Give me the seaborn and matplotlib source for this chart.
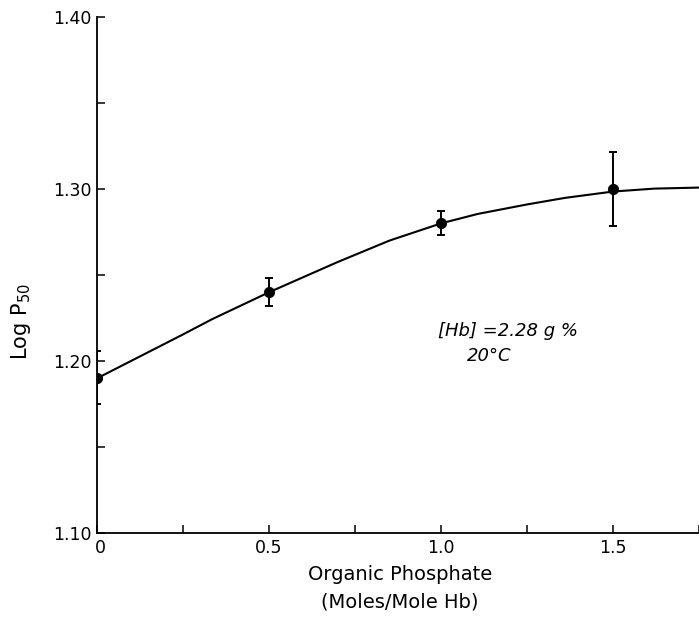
import matplotlib
matplotlib.use("Agg")
import matplotlib.pyplot as plt
import matplotlib.transforms as mtransforms
import seaborn as sns
import pandas as pd

# Measured points
phosphate = [0.0, 0.5, 1.0, 1.5]
log_p50 = [1.19, 1.24, 1.28, 1.30]
err_low = [0.015, 0.008, 0.007, 0.0215]
err_high = [0.016, 0.008, 0.007, 0.0215]

# Smooth fitted curve
curve_x = [0.0, 0.25, 0.335, 0.5, 0.70, 0.85, 1.0, 1.107, 1.25, 1.36, 1.5, 1.62, 1.75]
curve_y = [1.19, 1.2155, 1.2244, 1.24, 1.2576, 1.270, 1.28, 1.2855, 1.291, 1.2948, 1.2985, 1.3002, 1.3008]

x_ticks = [0, 0.25, 0.5, 0.75, 1.0, 1.25, 1.5, 1.75]
x_ticklabels = ["0", "", "0.5", "", "1.0", "", "1.5", ""]
y_ticks = [1.10, 1.15, 1.20, 1.25, 1.30, 1.35, 1.40]
y_ticklabels = ["1.10", "", "1.20", "", "1.30", "", "1.40"]

x_title = "Organic Phosphate"
x_units = "(Moles/Mole Hb)"
y_title = "Log P$_{\\mathregular{50}}$"
note_1 = "[Hb] =2.28 g %"
note_2 = "20\u00b0C"

sns.set_theme(style="ticks")
plt.rcParams['font.family'] = ['DejaVu Sans']

fig = plt.figure(figsize=(6.99, 6.25), dpi=100)
ax = fig.add_axes([0.139, 0.147, 0.861, 0.826])

curve_df = pd.DataFrame({"x": curve_x, "y": curve_y})
pts_df = pd.DataFrame({"x": phosphate, "y": log_p50})

sns.lineplot(data=curve_df, x="x", y="y", ax=ax, color="black", lw=1.5,
             estimator=None, sort=True)
ax.errorbar(phosphate, log_p50, yerr=[err_low, err_high], fmt="none",
            ecolor="black", elinewidth=1.4, capsize=3.2, capthick=1.4, zorder=3)
sns.scatterplot(data=pts_df, x="x", y="y", ax=ax, color="black", s=55,
                edgecolor="black", zorder=4)

ax.set_xlim(0, 1.745)
ax.set_ylim(1.10, 1.40)
ax.set_xticks(x_ticks)
ax.set_xticklabels(x_ticklabels)
ax.set_yticks(y_ticks)
ax.set_yticklabels(y_ticklabels)
ax.tick_params(direction="in", length=5.5, width=1.1, labelsize=12.5, colors="black")
ax.tick_params(axis="x", pad=4)
ax.tick_params(axis="y", pad=4)

# nudge the "0" label slightly right so it sits beside "1.10"
offset = mtransforms.ScaledTranslation(3 / 100, 0, fig.dpi_scale_trans)
first = ax.get_xticklabels()[0]
first.set_transform(first.get_transform() + offset)

sns.despine(ax=ax, top=True, right=True)
for s in ["left", "bottom"]:
    ax.spines[s].set_linewidth(1.3)
    ax.spines[s].set_color("black")

ax.set_xlabel("")
ax.set_ylabel(y_title, fontsize=15, color="black")
ax.yaxis.set_label_coords(-0.106, 0.41)

fig.text(400 / 699, 1 - 575 / 625, x_title, fontsize=14, ha="center", va="center",
         color="black")
fig.text(400 / 699, 1 - 602 / 625, x_units, fontsize=14, ha="center", va="center",
         color="black")

ax.text(0.99, 1.2174, note_1, fontsize=13, style="italic",
        ha="left", va="center", color="black")
ax.text(1.075, 1.2030, note_2, fontsize=13, style="italic",
        ha="left", va="center", color="black")

fig.savefig("out.png", dpi=100)
